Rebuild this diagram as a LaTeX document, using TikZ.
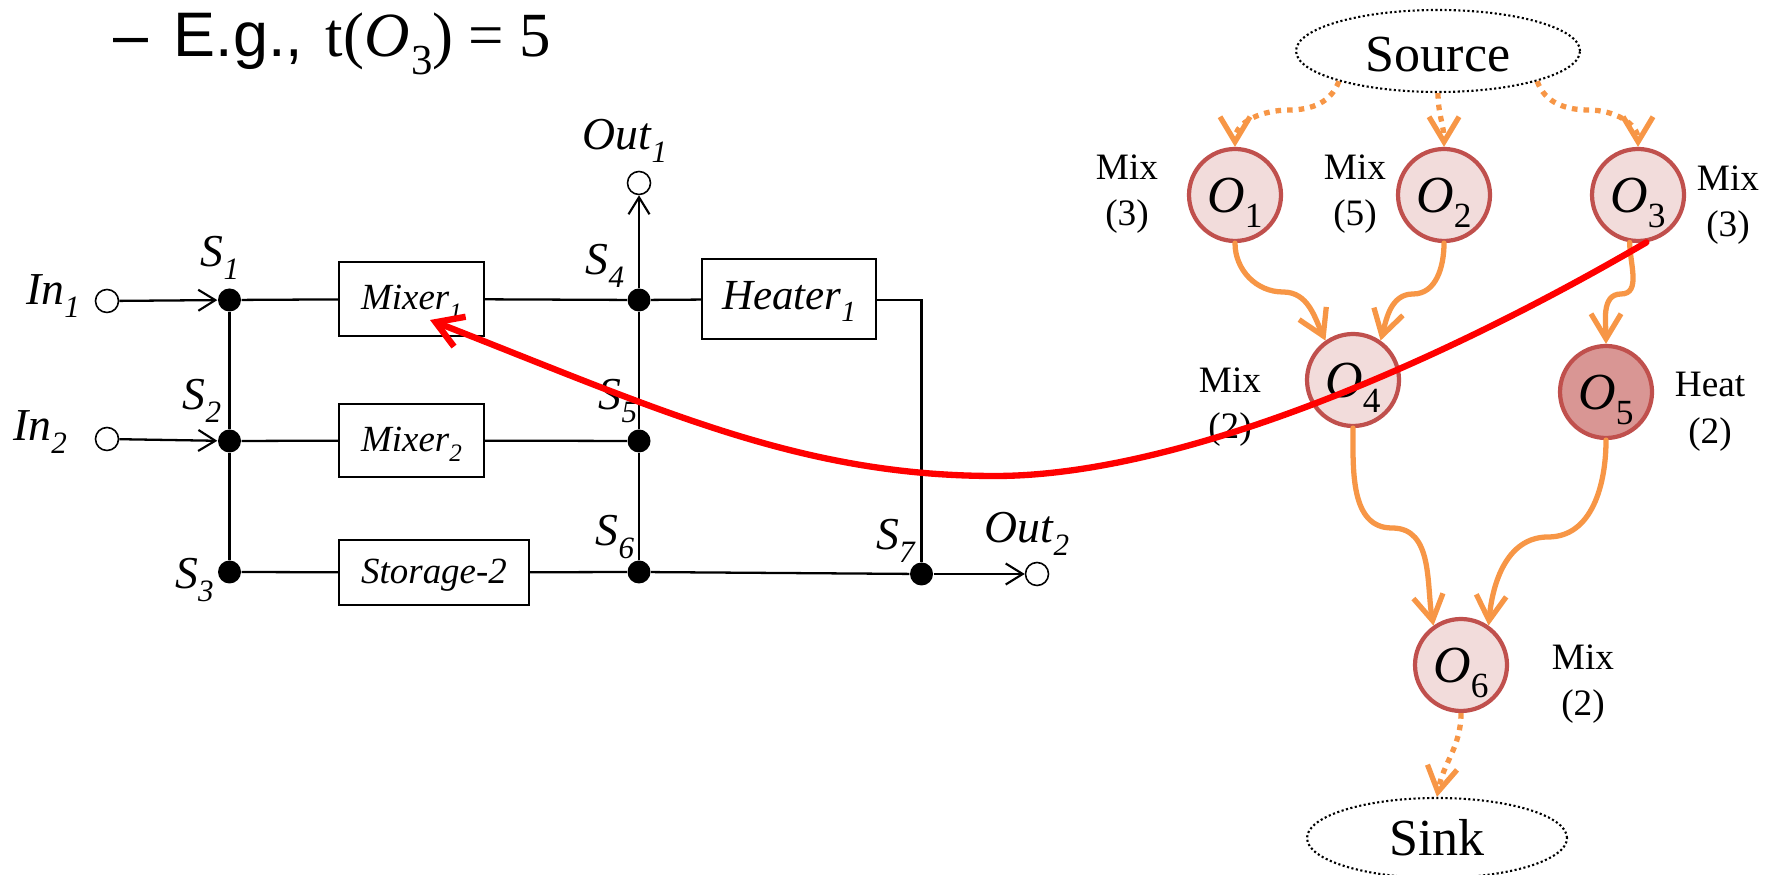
\documentclass[tikz,border=0pt]{standalone}
\usepackage{fontspec}
\setmainfont{Liberation Serif}
\newfontfamily\titlefont{Liberation Sans}
\usetikzlibrary{arrows.meta,shapes.geometric}
\definecolor{flowc}{HTML}{F79646}
\definecolor{ringc}{HTML}{C0504D}
\definecolor{opfill}{HTML}{F2DCDB}
\definecolor{heatfill}{HTML}{D99694}
\makeatletter
\newcommand{\dn}[1]{\raisebox{-.28em}{\fontsize{\strip@pt\dimexpr0.68\dimexpr\f@size pt\relax\relax}{10}\selectfont #1}}
\makeatother
\tikzset{
  wire/.style={line width=0.65pt, black},
  wirearrow/.style={wire, -{Straight Barb[length=1.7mm,width=2.1mm,line width=0.6pt]}},
  junction/.style={circle, fill=black, minimum size=0.23cm, inner sep=0pt},
  port/.style={circle, draw, fill=white, line width=0.45pt, minimum size=0.23cm, inner sep=0pt},
  unitbox/.style={draw, rectangle, line width=0.65pt, inner sep=0pt, text height=0.30cm, text depth=0.08cm, font=\fontsize{10.5}{12}\selectfont\itshape},
  pinlabel/.style={inner sep=0pt, font=\fontsize{13}{15}\selectfont\itshape},
  opnode/.style={circle, draw=ringc, fill=opfill, line width=1.2pt, minimum size=0.92cm, inner sep=0pt, text height=0.42cm, text depth=0.06cm, font=\fontsize{14.8}{17}\selectfont},
  termnode/.style={ellipse, draw, line width=0.6pt, dash pattern=on 0.6pt off 0.7pt, inner sep=0pt, font=\fontsize{14.8}{17}\selectfont},
  oplabel/.style={align=center, inner sep=0pt, font=\fontsize{10.6}{13.25}\selectfont},
  flow/.style={flowc, line width=1.5pt, line cap=round, -{Straight Barb[length=2.5mm,width=3mm,line width=1.5pt]}},
  dotflow/.style={flow, dash pattern=on 1.6pt off 1.7pt, line cap=butt},
}
\begin{document}
\begin{tikzpicture}
  \useasboundingbox (0,0) rectangle (17.73,8.75);
  % title
  \node[anchor=base west, inner sep=0pt, font=\fontsize{17.9}{20}\selectfont] at (1.13,8.18) (title) {{\titlefont –\kern.12em{} E.g., }\kern.08em{}t(\textit{O}\kern.03em\dn{3})\kern.24em{}=\kern.24em{}5};
  % network
  \node[port] at (1.07,5.74) (in1) {};
  \node[port] at (1.07,4.36) (in2) {};
  \node[port] at (6.39,6.92) (out1) {};
  \node[port] at (10.37,3.01) (out2) {};
  \node[junction] at (2.295,5.75) (s1) {};
  \node[junction] at (2.295,4.34) (s2) {};
  \node[junction] at (2.295,3.03) (s3) {};
  \node[junction] at (6.39,5.75) (s4) {};
  \node[junction] at (6.39,4.34) (s5) {};
  \node[junction] at (6.39,3.03) (s6) {};
  \node[junction] at (9.215,3.01) (s7) {};
  \node[unitbox, minimum width=1.45cm, minimum height=0.74cm] at (4.115,5.76) (mixer1) {Mixer\dn{1}};
  \node[unitbox, minimum width=1.45cm, minimum height=0.73cm] at (4.115,4.345) (mixer2) {Mixer\dn{2}};
  \node[unitbox, minimum width=1.90cm, minimum height=0.65cm] at (4.34,3.025) (storage) {Storage-2};
  \node[unitbox, minimum width=1.74cm, minimum height=0.80cm, font=\fontsize{12.2}{14}\selectfont\itshape] at (7.89,5.76) (heater) {Heater\dn{1}};
  \node[pinlabel] at (0.53,5.79) (lin1) {In\dn{1}};
  \node[pinlabel] at (0.40,4.43) (lin2) {In\dn{2}};
  \node[pinlabel] at (2.20,6.17) (ls1) {S\dn{1}};
  \node[pinlabel] at (2.02,4.74) (ls2) {S\dn{2}};
  \node[pinlabel] at (1.945,2.95) (ls3) {S\dn{3}};
  \node[pinlabel] at (6.05,6.09) (ls4) {S\dn{4}};
  \node[pinlabel] at (6.18,4.74) (ls5) {S\dn{5}};
  \node[pinlabel] at (6.15,3.38) (ls6) {S\dn{6}};
  \node[pinlabel] at (8.955,3.345) (ls7) {S\dn{7}};
  \node[pinlabel] at (6.25,7.34) (lout1) {Out\dn{1}};
  \node[pinlabel] at (10.27,3.41) (lout2) {Out\dn{2}};
  \draw[wirearrow] (in1) -- (s1);
  \draw[wirearrow] (in2) -- (s2);
  \draw[wire] (s1) -- (s2);
  \draw[wire] (s2) -- (s3);
  \draw[wire] (s4) -- (s5);
  \draw[wire] (s5) -- (s6);
  \draw[wire] (s1) -- (mixer1);
  \draw[wire] (s2) -- (mixer2);
  \draw[wire] (s3) -- (storage);
  \draw[wire] (mixer1) -- (s4);
  \draw[wire] (mixer2) -- (s5);
  \draw[wire] (storage) -- (s6);
  \draw[wire] (s4) -- (heater);
  \draw[wire] (s6) -- (s7);
  \draw[wire] (heater.east |- s4) -| (s7);
  \draw[wirearrow] (s4) -- (out1);
  \draw[wirearrow] (s7) -- (out2);
  % operations
  \node[termnode, minimum width=2.84cm, minimum height=0.82cm, text height=0.42cm] at (14.38,8.24) (source) {Source};
  \node[termnode, minimum width=2.60cm, minimum height=0.80cm] at (14.37,0.37) (sink) {Sink};
  \node[opnode] at (12.35,6.80) (o1) {\textit{O}\dn{1}};
  \node[opnode] at (14.44,6.80) (o2) {\textit{O}\dn{2}};
  \node[opnode] at (16.38,6.80) (o3) {\textit{O}\dn{3}};
  \node[opnode] at (13.53,4.95) (o4) {\textit{O}\dn{4}};
  \node[opnode, fill=heatfill] at (16.06,4.83) (o5) {\textit{O}\dn{5}};
  \node[opnode] at (14.61,2.10) (o6) {\textit{O}\dn{6}};
  \node[oplabel] at (11.27,6.81) (lo1) {Mix\\(3)};
  \node[oplabel] at (13.55,6.81) (lo2) {Mix\\(5)};
  \node[oplabel] at (17.28,6.70) (lo3) {Mix\\(3)};
  \node[oplabel] at (12.30,4.68) (lo4) {Mix\\(2)};
  \node[oplabel] at (17.10,4.63) (lo5) {Heat\\(2)};
  \node[oplabel] at (15.83,1.91) (lo6) {Mix\\(2)};
  \coordinate (m1) at (12.89,7.65);
  \coordinate (m3) at (15.89,7.65);
  \coordinate (m14) at (12.83,5.83);
  \coordinate (m24) at (14.13,5.81);
  \coordinate (m35) at (16.21,5.81);
  \coordinate (m46) at (13.92,3.47);
  \coordinate (m56) at (15.48,3.38);
  \draw[dotflow] (source.197) to[out=-110,in=0] (m1) to[out=180,in=90] (o1.north);
  \draw[dotflow] (source.south) to[out=-90,in=90] (o2.north);
  \draw[dotflow] (source.-17) to[out=-70,in=180] (m3) to[out=0,in=90] (o3.north);
  \draw[flow] (o1.south) to[out=-90,in=180] (m14) to[out=0,in=115] (o4.125);
  \draw[flow] (o2.south) to[out=-90,in=0] (m24) to[out=180,in=75] (o4.55);
  \draw[flow] (o3.-100) to[out=-90,in=0] (m35) to[out=180,in=90] (o5.north);
  \draw[flow] (o4.south) to[out=-90,in=180] (m46) to[out=0,in=100] (o6.125);
  \draw[flow] (o5.south) to[out=-90,in=0] (m56) to[out=180,in=85] (o6.55);
  \draw[dotflow] (o6.south) to[out=-90,in=80] (sink.north);
  % red arc
  \coordinate (arclow) at (9.95,3.99);
  \coordinate (arcend) at (4.30,5.55);
  \draw[red, line width=1.8pt, line cap=round, -{Straight Barb[length=2.6mm,width=3.2mm,line width=1.8pt]}] (o3.-80) .. controls (14.40,5.12) and (11.80,3.99) .. (arclow) .. controls (8.00,3.99) and (6.60,4.65) .. (arcend);
\end{tikzpicture}
\end{document}
